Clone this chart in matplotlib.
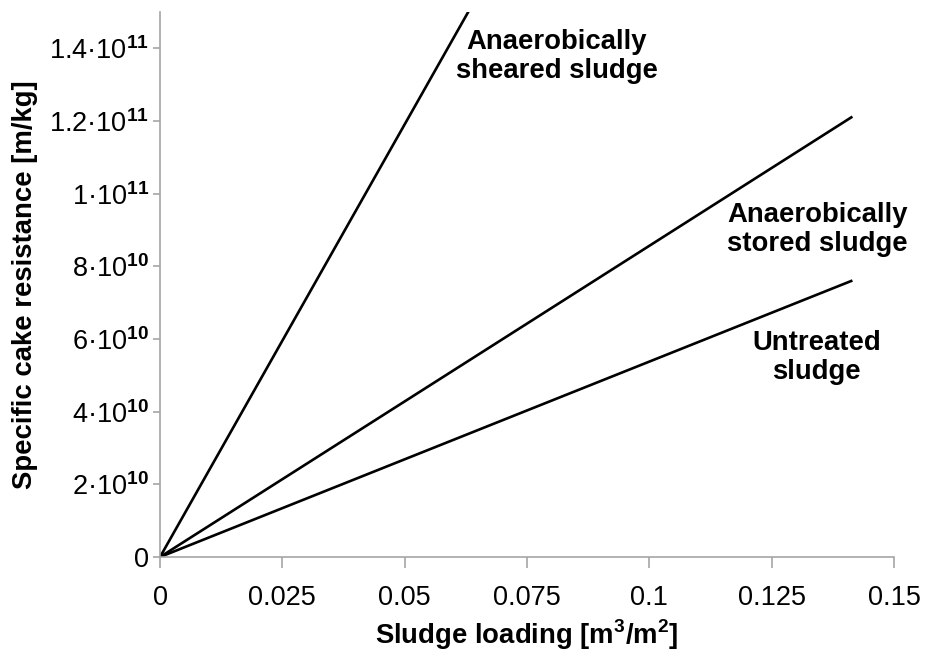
import matplotlib
matplotlib.use("Agg")
import matplotlib.pyplot as plt

plt.rcParams['font.family'] = ['Liberation Sans', 'DejaVu Sans']
plt.rcParams['mathtext.fontset'] = 'custom'
plt.rcParams['mathtext.rm'] = 'Liberation Sans'
plt.rcParams['mathtext.bf'] = 'Liberation Sans:bold'

# sludge loading [m3/m2] at the start and end of each fitted line
loading = [0.0, 0.1415]
untreated = [0.0, 7.61e10]
stored = [0.0, 12.12e10]
sheared = [0.0, 3.37e11]

x_ticks = [0, 0.025, 0.05, 0.075, 0.1, 0.125, 0.15]
x_tick_labels = ['0', '0.025', '0.05', '0.075', '0.1', '0.125', '0.15']
y_ticks = [0, 2e10, 4e10, 6e10, 8e10, 1e11, 1.2e11, 1.4e11]
y_mantissa = ['0', '2', '4', '6', '8', '1', '1.2', '1.4']
y_exponent = [None, 10, 10, 10, 10, 11, 11, 11]

labels = ['Anaerobically\nsheared sludge', 'Anaerobically\nstored sludge', 'Untreated\nsludge']
label_x = [0.0811, 0.1343, 0.1342]
label_y = [13.78e10, 9.01e10, 5.50e10]


def sci_label(m, e):
    if e is None:
        return m
    return r'$\mathregular{' + m + r'·10^{\mathbf{' + str(e) + r'}}}$'


fig = plt.figure(figsize=(9.25, 6.55), dpi=100)
ax = fig.add_axes([0.173, 0.1496, 0.7935, 0.8321])

for series in (untreated, stored, sheared):
    ax.plot(loading, series, color='black', lw=1.9, solid_capstyle='butt')

for txt, tx, ty in zip(labels, label_x, label_y):
    ax.text(tx, ty, txt, ha='center', va='center', fontsize=19.8,
            fontweight='bold', linespacing=1.15)

ax.set_xlim(0, 0.15)
ax.set_ylim(0, 1.5e11)
ax.set_xticks(x_ticks)
ax.set_xticklabels(x_tick_labels)
ax.set_yticks(y_ticks)
ax.set_yticklabels([sci_label(m, e) for m, e in zip(y_mantissa, y_exponent)])

for side in ('top', 'right'):
    ax.spines[side].set_visible(False)
for side in ('left', 'bottom'):
    ax.spines[side].set_color('#a6a6a6')
    ax.spines[side].set_linewidth(1.2)

ax.tick_params(axis='x', direction='out', length=8, width=1.2, color='#a6a6a6',
               labelsize=19.5, pad=12)
ax.tick_params(axis='y', direction='out', length=5, width=1.2, color='#a6a6a6',
               labelsize=19.5, pad=3)

ax.set_xlabel(r'Sludge loading [m$^{\mathbf{3}}$/m$^{\mathbf{2}}$]', fontsize=19.8,
              fontweight='bold', labelpad=5)
ax.set_ylabel('Specific cake resistance [m/kg]', fontsize=19.8, fontweight='bold',
              labelpad=8)

fig.savefig('out.png', dpi=100)
